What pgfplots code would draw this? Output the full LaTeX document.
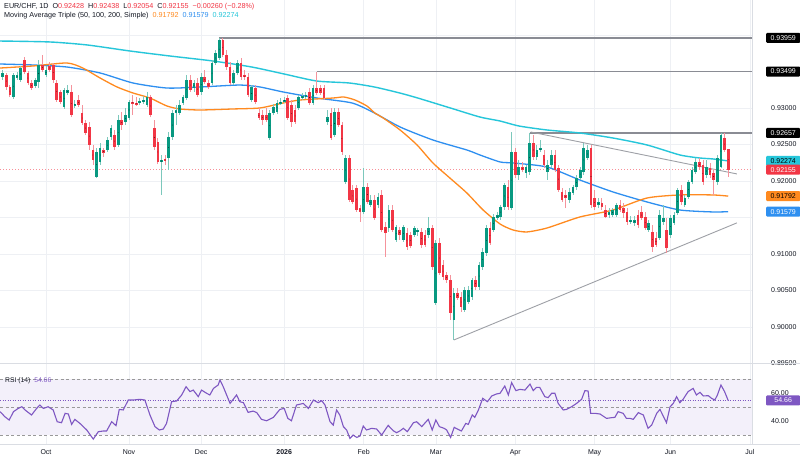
\documentclass[border=0pt]{standalone}
\usepackage{pgfplots}
\pgfplotsset{compat=1.18}
\usepackage{pgfplotstable}
\usepackage{fontspec}
\setmainfont{Liberation Sans}
\definecolor{up}{HTML}{089981}
\definecolor{dn}{HTML}{F23645}
\definecolor{upw}{HTML}{7CC8BC}
\definecolor{dnw}{HTML}{F5939C}
\definecolor{ma50}{HTML}{FF8A1F}
\definecolor{ma100}{HTML}{2E8FF0}
\definecolor{ma200}{HTML}{26C6DA}
\definecolor{gridc}{HTML}{EEF0F4}
\definecolor{sep}{HTML}{DADDE3}
\definecolor{txt}{HTML}{131722}
\definecolor{lvl}{HTML}{8A8C94}
\definecolor{trend}{HTML}{9EA0A6}
\definecolor{rsi}{HTML}{7E57C2}
\pgfplotsset{candle/.style={only marks, mark=*, mark size=0.01pt, mark options={draw=none, fill=none},
  error bars/y dir=both, error bars/y explicit, error bars/error mark=none}}
\newcommand{\lab}{\fontsize{7}{8}\selectfont}

% up candles: day index, open, high, low, close
\pgfplotstableread{
i o h l c
-12 0.93424 0.93520 0.93383 0.93479
-9 0.93150 0.93479 0.93123 0.93452
-8 0.93410 0.93493 0.93383 0.93452
-7 0.93383 0.93575 0.93356 0.93547
-3 0.93301 0.93410 0.93273 0.93383
-2 0.93356 0.93657 0.93273 0.93589
0 0.93452 0.93575 0.93424 0.93520
5 0.93013 0.93273 0.92986 0.93246
6 0.93205 0.93315 0.93178 0.93246
8 0.93041 0.93109 0.93000 0.93054
14 0.92054 0.92451 0.92040 0.92397
15 0.92260 0.92520 0.92219 0.92451
17 0.92424 0.92602 0.92397 0.92561
18 0.92602 0.92767 0.92561 0.92725
20 0.92493 0.92904 0.92465 0.92835
22 0.92808 0.93000 0.92767 0.92904
23 0.92863 0.93109 0.92835 0.93082
26 0.93068 0.93136 0.93041 0.93095
27 0.93082 0.93164 0.93054 0.93109
28 0.93041 0.93219 0.93013 0.93150
32 0.92260 0.92356 0.91808 0.92287
34 0.92315 0.92671 0.92150 0.92602
35 0.92602 0.92972 0.92561 0.92931
36 0.92931 0.93041 0.92767 0.92972
37 0.92931 0.93109 0.92904 0.93041
38 0.93068 0.93178 0.93041 0.93150
39 0.93136 0.93452 0.93109 0.93383
41 0.93273 0.93383 0.93219 0.93342
43 0.93219 0.93479 0.93178 0.93424
46 0.93342 0.93657 0.93315 0.93616
47 0.93616 0.93794 0.93589 0.93753
48 0.93684 0.93959 0.93657 0.93931
52 0.93342 0.93520 0.93315 0.93479
53 0.93479 0.93657 0.93452 0.93616
57 0.93109 0.93315 0.93082 0.93287
62 0.92588 0.92972 0.92561 0.92931
63 0.92931 0.93054 0.92904 0.93013
64 0.92945 0.93109 0.92917 0.93068
65 0.93068 0.93136 0.93041 0.93082
66 0.93095 0.93150 0.93068 0.93109
70 0.93000 0.93178 0.92972 0.93150
71 0.93136 0.93205 0.93109 0.93164
72 0.93150 0.93219 0.93123 0.93178
74 0.93068 0.93315 0.93041 0.93273
78 0.92808 0.92972 0.92767 0.92876
80 0.92630 0.93000 0.92602 0.92945
83 0.91986 0.92356 0.91958 0.92315
88 0.91575 0.92177 0.91547 0.91917
90 0.91671 0.91808 0.91643 0.91739
92 0.91671 0.91835 0.91629 0.91780
95 0.91355 0.91671 0.91301 0.91602
97 0.91191 0.91397 0.91164 0.91369
99 0.91191 0.91397 0.91164 0.91369
102 0.91260 0.91383 0.91232 0.91355
103 0.91301 0.91355 0.91246 0.91328
106 0.91260 0.91506 0.91218 0.91355
108 0.90328 0.91191 0.90301 0.91150
113 0.90095 0.90533 0.89821 0.90465
116 0.90232 0.90547 0.90205 0.90506
117 0.90342 0.90561 0.90314 0.90506
118 0.90410 0.90670 0.90369 0.90643
120 0.90547 0.90890 0.90506 0.90849
121 0.90821 0.91081 0.90780 0.91027
122 0.91013 0.91397 0.90972 0.91355
124 0.91328 0.91547 0.91301 0.91506
125 0.91492 0.91575 0.91465 0.91534
126 0.91506 0.91671 0.91465 0.91643
127 0.91643 0.91972 0.91602 0.91945
129 0.91629 0.92671 0.91602 0.92397
131 0.92082 0.92287 0.92013 0.92191
133 0.92109 0.92219 0.92040 0.92191
134 0.92123 0.92657 0.92082 0.92520
136 0.92328 0.92493 0.92287 0.92424
137 0.92424 0.92561 0.92397 0.92451
139 0.92123 0.92287 0.92013 0.92219
140 0.92219 0.92424 0.92177 0.92356
145 0.91739 0.91903 0.91698 0.91849
146 0.91835 0.91945 0.91808 0.91917
147 0.91917 0.92082 0.91876 0.92040
148 0.92040 0.92191 0.92013 0.92150
149 0.92123 0.92520 0.92082 0.92451
150 0.92315 0.92493 0.92287 0.92424
153 0.91671 0.91766 0.91629 0.91712
156 0.91534 0.91629 0.91492 0.91575
157 0.91534 0.91629 0.91506 0.91602
158 0.91534 0.91698 0.91506 0.91671
162 0.91438 0.91520 0.91410 0.91465
163 0.91424 0.91520 0.91383 0.91465
167 0.91328 0.91465 0.91301 0.91424
170 0.91218 0.91602 0.91191 0.91534
171 0.91438 0.91671 0.91397 0.91492
173 0.91260 0.91534 0.91218 0.91492
174 0.91424 0.91575 0.91397 0.91534
175 0.91561 0.91903 0.91534 0.91876
177 0.91671 0.91808 0.91643 0.91766
178 0.91780 0.92013 0.91753 0.91986
179 0.91986 0.92191 0.91958 0.92150
180 0.92123 0.92315 0.92095 0.92260
183 0.92082 0.92287 0.92040 0.92191
186 0.91986 0.92356 0.91945 0.92315
187 0.92191 0.92657 0.92177 0.92630
}\upc

% down candles
\pgfplotstableread{
i o h l c
-11 0.93452 0.93479 0.93246 0.93287
-10 0.93287 0.93315 0.93150 0.93178
-6 0.93657 0.93698 0.93465 0.93493
-5 0.93479 0.93506 0.93315 0.93342
-4 0.93342 0.93383 0.93246 0.93273
-1 0.93589 0.93726 0.93493 0.93520
1 0.93575 0.93630 0.93493 0.93520
2 0.93589 0.93616 0.93342 0.93383
3 0.93342 0.93383 0.93082 0.93109
4 0.93219 0.93246 0.93054 0.93082
7 0.93219 0.93315 0.92876 0.92904
9 0.93109 0.93178 0.93013 0.93041
10 0.92931 0.93041 0.92767 0.92794
11 0.92794 0.92835 0.92630 0.92657
12 0.92739 0.92808 0.92424 0.92493
13 0.92424 0.92493 0.92219 0.92287
16 0.92424 0.92451 0.92328 0.92383
19 0.92630 0.92698 0.92424 0.92465
21 0.92835 0.92945 0.92698 0.92767
24 0.93082 0.93178 0.92904 0.93068
25 0.93068 0.93150 0.93027 0.93054
29 0.93150 0.93178 0.92876 0.92904
30 0.92725 0.92835 0.92424 0.92465
31 0.92534 0.92588 0.92232 0.92260
33 0.92301 0.92356 0.92219 0.92273
40 0.93383 0.93452 0.93219 0.93246
42 0.93342 0.93410 0.93150 0.93178
44 0.93424 0.93520 0.93328 0.93356
45 0.93342 0.93383 0.93260 0.93287
49 0.93931 0.93958 0.93698 0.93726
50 0.93726 0.93794 0.93520 0.93561
51 0.93561 0.93630 0.93315 0.93342
54 0.93616 0.93684 0.93383 0.93424
55 0.93452 0.93520 0.93383 0.93424
56 0.93424 0.93479 0.93150 0.93178
58 0.93273 0.93315 0.93054 0.93082
59 0.92931 0.93000 0.92835 0.92863
60 0.92904 0.92972 0.92767 0.92835
61 0.92904 0.93000 0.92808 0.92835
67 0.93136 0.93178 0.92835 0.92863
68 0.93041 0.93109 0.92739 0.92808
69 0.92972 0.93041 0.92781 0.92808
73 0.93219 0.93273 0.93041 0.93068
75 0.93273 0.93499 0.93178 0.93205
76 0.93273 0.93315 0.93178 0.93205
77 0.93273 0.93315 0.93109 0.93136
79 0.92931 0.93000 0.92561 0.92588
81 0.92945 0.93000 0.92739 0.92767
82 0.92767 0.92808 0.92356 0.92397
84 0.92315 0.92356 0.91712 0.91739
85 0.91876 0.91945 0.91684 0.91712
86 0.91903 0.91945 0.91575 0.91602
87 0.91629 0.91671 0.91438 0.91575
89 0.91917 0.91972 0.91684 0.91712
91 0.91739 0.91808 0.91465 0.91492
93 0.91808 0.91876 0.91301 0.91328
94 0.91369 0.91438 0.90958 0.91287
96 0.91602 0.91671 0.91301 0.91328
98 0.91328 0.91369 0.91191 0.91260
100 0.91287 0.91355 0.91054 0.91095
101 0.91260 0.91301 0.91081 0.91109
104 0.91301 0.91355 0.91081 0.91123
105 0.91260 0.91328 0.91095 0.91123
107 0.91355 0.91397 0.90780 0.90821
109 0.91150 0.91218 0.90712 0.90739
110 0.90849 0.90917 0.90643 0.90684
111 0.90712 0.90753 0.90602 0.90643
112 0.90643 0.90712 0.90095 0.90191
114 0.90465 0.90533 0.90369 0.90396
115 0.90410 0.90479 0.90205 0.90273
119 0.90643 0.90698 0.90506 0.90547
123 0.91355 0.91438 0.91123 0.91150
128 0.91917 0.92013 0.91602 0.91643
130 0.92397 0.92451 0.92040 0.92082
132 0.92191 0.92260 0.92123 0.92150
135 0.92520 0.92630 0.92287 0.92328
138 0.92356 0.92424 0.92177 0.92219
141 0.92356 0.92424 0.92123 0.92150
142 0.92177 0.92219 0.91849 0.91876
143 0.91849 0.91903 0.91712 0.91739
144 0.91808 0.91876 0.91629 0.91766
151 0.92451 0.92493 0.91629 0.91671
152 0.91766 0.91876 0.91602 0.91643
154 0.91698 0.91766 0.91602 0.91643
155 0.91602 0.91671 0.91492 0.91506
159 0.91671 0.91739 0.91575 0.91602
160 0.91629 0.91698 0.91492 0.91561
161 0.91575 0.91629 0.91397 0.91438
164 0.91534 0.91602 0.91355 0.91397
165 0.91575 0.91657 0.91465 0.91492
166 0.91506 0.91575 0.91328 0.91355
168 0.91301 0.91397 0.91027 0.91095
169 0.91218 0.91301 0.91095 0.91123
172 0.91328 0.91492 0.91013 0.91081
176 0.91876 0.91945 0.91671 0.91712
181 0.92260 0.92315 0.92150 0.92191
182 0.92219 0.92287 0.91945 0.91986
184 0.92177 0.92246 0.92040 0.92082
185 0.92109 0.92150 0.91808 0.92013
188 0.92588 0.92650 0.92397 0.92424
189 0.92428 0.92438 0.92054 0.92155
}\dnc

\pgfplotstableread{
i p
-12.74 0.93917
1.1 0.93904
11.4 0.93863
23.3 0.93780
34.3 0.93712
46.3 0.93643
57 0.93561
66 0.93465
75 0.93369
84 0.93342
91 0.93287
98 0.93205
103 0.93136
112 0.93000
120.2 0.92876
125.8 0.92821
131 0.92753
138.8 0.92698
147.9 0.92657
157.1 0.92588
166.5 0.92493
175.6 0.92356
181 0.92315
184.8 0.92301
189 0.92274
}\smaA

\pgfplotstableread{
i p
-12.74 0.93602
-3.6 0.93589
5.8 0.93561
15.0 0.93479
24.1 0.93342
33.5 0.93273
42.7 0.93287
53.7 0.93314
59.3 0.93287
65.7 0.93219
75.1 0.93136
84.8 0.93068
91 0.92931
98.1 0.92739
107.2 0.92561
116.6 0.92424
120.2 0.92356
125.8 0.92260
129.4 0.92246
138.8 0.92191
147.9 0.92013
157.1 0.91849
166.5 0.91712
175.6 0.91602
184.8 0.91575
189 0.91579
}\smaB

\pgfplotstableread{
i p
-12.74 0.93547
-3.6 0.93575
5.8 0.93616
10.2 0.93547
15.0 0.93410
19.7 0.93287
24.1 0.93205
28.8 0.93136
33.5 0.93027
37.1 0.92986
42.7 0.92972
51.8 0.92986
59.3 0.93000
65.7 0.93068
70.4 0.93109
79.5 0.93136
82.5 0.93150
85.6 0.93109
88.9 0.93027
91.1 0.92931
93.4 0.92863
98.1 0.92698
102.8 0.92493
107.2 0.92246
111.9 0.92040
116.6 0.91835
121.1 0.91602
125.8 0.91410
129.4 0.91328
133.2 0.91301
138.8 0.91355
147.9 0.91506
157.1 0.91602
166.5 0.91766
175.6 0.91808
184.8 0.91808
189 0.91792
}\smaC

\pgfplotstableread{
i r
-12.7 46.7
-11.4 43.1
-10.2 40.7
-9.0 46.7
-7.7 49.0
-6.7 50.2
-5.8 47.9
-4.0 44.3
-2.6 49.0
-1.7 51.4
-0.7 49.0
0.6 50.2
2.0 47.9
3.1 39.5
4.3 38.8
5.3 45.5
6.2 45.0
7.1 37.6
8.0 41.2
9.4 38.3
11.3 33.6
13.1 27.1
14.5 32.4
15.9 32.9
16.8 32.9
18.2 39.5
19.4 36.7
20.3 48.3
21.4 47.9
22.8 55.0
24.2 55.0
26.0 55.5
27.4 55.0
28.8 44.3
30.2 36.0
31.4 33.6
32.5 34.3
33.4 38.3
34.8 53.8
36.2 54.3
37.6 58.6
38.8 64.5
39.9 61.0
40.8 62.1
42.2 57.4
43.1 62.1
44.5 59.8
45.4 58.6
46.4 63.3
47.7 65.7
48.2 69.3
49.1 64.5
51.0 52.6
52.8 58.6
53.7 53.8
54.7 53.1
56.0 46.2
57.4 47.1
58.4 46.0
59.7 41.2
61.1 40.2
63.0 42.6
64.8 48.3
66.0 49.0
67.0 41.9
68.0 40.2
69.4 51.4
71.3 52.6
72.7 49.0
74.1 55.0
75.4 53.1
76.4 54.5
77.3 51.4
78.7 39.5
79.6 37.1
80.5 47.9
81.4 44.3
82.4 36.0
83.3 33.6
84.2 27.6
85.1 30.0
86.1 28.3
87.0 29.3
87.9 36.4
88.8 33.6
90.2 34.8
91.6 34.3
93.0 30.0
94.8 36.9
96.2 33.1
97.1 31.7
98.1 33.0
99.0 34.8
100.1 32.4
101.8 38.8
102.7 39.5
104.1 36.0
105.9 41.2
107.0 33.6
108.0 40.7
109.0 36.0
110.3 34.8
111.0 33.6
112.1 28.3
113.1 35.5
114.2 34.0
115.1 32.9
116.3 38.3
117.0 37.6
118.1 44.3
118.8 42.6
119.8 47.9
121.0 56.2
122.3 53.8
123.5 57.9
124.8 59.3
125.8 59.8
127.1 65.0
128.1 58.6
129.0 67.4
130.2 61.7
131.3 62.6
132.7 62.1
134.1 66.4
135.0 61.7
135.9 64.0
136.8 64.0
138.2 57.4
139.1 56.7
140.1 59.8
141.0 59.8
141.9 52.6
143.3 47.9
144.2 48.3
145.6 50.2
147.0 52.6
148.4 55.5
149.3 61.7
150.2 61.4
150.9 45.5
152.1 45.5
153.5 45.0
155.3 41.9
156.7 42.4
157.6 42.6
158.5 46.7
159.9 45.5
160.8 41.9
161.8 41.9
162.7 41.2
164.1 46.0
165.5 44.3
166.8 34.8
167.8 37.1
169.2 45.5
170.1 48.3
171.0 43.6
171.9 38.8
172.9 50.2
173.8 52.6
174.7 57.4
175.6 53.1
176.5 55.5
177.9 61.0
179.3 63.3
180.2 58.6
181.2 60.5
182.1 57.9
183.5 58.1
184.4 56.2
185.3 55.0
186.0 58.5
187.0 65.7
188.0 61.0
189.0 54.66
}\rsidata

\begin{document}
\begin{tikzpicture}
\path[use as bounding box, fill=white] (0,0) rectangle (800pt,-461pt);

% ---------------- price panel ----------------
\begin{axis}[
  at={(0,0)}, anchor=north west,
  scale only axis, width=752pt, height=363.4pt,
  xmin=-12.74, xmax=195.6, ymin=0.895, ymax=0.94479,
  axis line style={draw=none}, major tick length=0pt,
  xtick={0,23,43,66,88,108,130,152,173,195}, xticklabels={},
  ytick={0.895,0.9,0.905,0.91,0.915,0.92,0.925,0.93,0.935,0.94},
  yticklabels={0.89500,0.90000,0.90500,0.91000,{},0.92000,0.92500,0.93000,{},{}},
  yticklabel pos=right,
  yticklabel style={anchor=west, inner sep=0pt, xshift=19pt, font=\lab, text=txt},
  xmajorgrids, ymajorgrids, grid style={color=gridc, line width=0.6pt},
  clip mode=individual,
]
% level lines
\addplot[lvl, line width=1.4pt] coordinates {(48,0.93959) (195.6,0.93959)};
\addplot[lvl, line width=1.4pt] coordinates {(75,0.93499) (195.6,0.93499)};
\addplot[lvl, line width=1.4pt] coordinates {(134,0.92657) (195.6,0.92657)};
% trend lines
\addplot[trend, line width=0.9pt] coordinates {(134.3,0.92671) (191.4,0.92096)};
\addplot[trend, line width=0.9pt] coordinates {(113,0.89821) (191.4,0.91425)};
% last price line
\addplot[dn!55, line width=0.55pt, dash pattern=on 1pt off 2pt] coordinates {(-12.74,0.92155) (195.6,0.92155)};
% moving averages
\addplot[ma200, line width=1.4pt, smooth, tension=0.4] table[x=i,y=p] {\smaA};
\addplot[ma100, line width=1.3pt, smooth, tension=0.4] table[x=i,y=p] {\smaB};
\addplot[ma50, line width=1.3pt, smooth, tension=0.4] table[x=i,y=p] {\smaC};
% wicks (quiver from low to high)
\addplot[upw, line width=0.8pt, mark=none, quiver={u=0, v=\thisrow{h}-\thisrow{l}}] table[x=i, y=l] {\upc};
\addplot[dnw, line width=0.8pt, mark=none, quiver={u=0, v=\thisrow{h}-\thisrow{l}}] table[x=i, y=l] {\dnc};
% bodies (error bars from open to close)
\addplot[candle, error bars/error bar style={draw=up, line width=2.7pt}]
  table[x=i, y expr=(\thisrow{o}+\thisrow{c})/2, y error expr=abs(\thisrow{c}-\thisrow{o})/2+0.00004] {\upc};
\addplot[candle, error bars/error bar style={draw=dn, line width=2.7pt}]
  table[x=i, y expr=(\thisrow{o}+\thisrow{c})/2, y error expr=abs(\thisrow{c}-\thisrow{o})/2+0.00004] {\dnc};
% price scale labels
\tikzset{plab/.style={anchor=west, xshift=14pt, inner sep=0pt, minimum width=34pt, minimum height=10pt, rounded corners=1pt, font=\lab}}
\node[plab, fill=black, text=white] at (axis cs:195.6,0.93959) {0.93959};
\node[plab, fill=black, text=white] at (axis cs:195.6,0.93499) {0.93499};
\node[plab, fill=black, text=white] at (axis cs:195.6,0.92657) {0.92657};
\node[plab, fill=ma200, text=black] at (axis cs:195.6,0.92274) {0.92274};
\node[plab, fill=dn, text=white] at (axis cs:195.6,0.92155) {0.92155};
\node[plab, fill=ma50, text=black] at (axis cs:195.6,0.91792) {0.91792};
\node[plab, fill=ma100, text=white] at (axis cs:195.6,0.91579) {0.91579};
\end{axis}

% ---------------- RSI panel ----------------
\begin{axis}[
  at={(0,-364pt)}, anchor=north west,
  scale only axis, width=752pt, height=80pt,
  xmin=-12.74, xmax=195.6, ymin=23.6, ymax=80.7,
  axis line style={draw=none}, major tick length=0pt,
  xtick={0,23,43,66,88,108,130,152,173,195},
  xticklabels={Oct,Nov,Dec,\textbf{2026},Feb,Mar,Apr,May,Jun,Jul},
  xticklabel style={font=\lab, text=txt, yshift=-2pt},
  ytick={40,60}, yticklabels={40.00,60.00},
  yticklabel pos=right,
  yticklabel style={anchor=west, inner sep=0pt, xshift=19pt, font=\lab, text=txt},
  xmajorgrids, grid style={color=gridc, line width=0.6pt},
  clip mode=individual,
]
\addplot[draw=none, fill=rsi!9] coordinates {(-12.74,30) (195.6,30) (195.6,70) (-12.74,70)} -- cycle;
\addplot[gray!80, line width=0.6pt, dash pattern=on 3pt off 2.5pt] coordinates {(-12.74,70) (195.6,70)};
\addplot[gray!80, line width=0.6pt, dash pattern=on 3pt off 2.5pt] coordinates {(-12.74,50) (195.6,50)};
\addplot[gray!80, line width=0.6pt, dash pattern=on 3pt off 2.5pt] coordinates {(-12.74,30) (195.6,30)};
\addplot[rsi, line width=0.7pt, dash pattern=on 1pt off 1.5pt] coordinates {(-12.74,54.66) (195.6,54.66)};
\addplot[rsi, line width=1.1pt] table[x=i,y=r] {\rsidata};
\node[anchor=west, inner sep=0pt, xshift=14pt, minimum width=34pt, minimum height=10pt, rounded corners=1pt, fill=rsi, text=white, font=\lab] at (axis cs:195.6,54.66) {54.66};
\end{axis}

% separators
\draw[sep, line width=0.6pt] (0,-363.6pt) -- (800pt,-363.6pt);
\draw[sep, line width=0.6pt] (0,-444.5pt) -- (800pt,-444.5pt);
\draw[sep, line width=0.6pt] (752pt,0) -- (752pt,-444.5pt);

% header
\node[anchor=base west, inner sep=0pt, font=\fontsize{7.2}{8}\selectfont, text=txt] at (4pt,-8.5pt)
  {EUR/CHF, 1D\ \ O\textcolor{dn}{0.92428}\ \ H\textcolor{dn}{0.92438}\ \ L\textcolor{dn}{0.92054}\ \ C\textcolor{dn}{0.92155}\ \ \textcolor{dn}{−0.00260 (−0.28\%)}};
\node[anchor=base west, inner sep=0pt, font=\fontsize{7.2}{8}\selectfont, text=txt] at (4pt,-17pt)
  {Moving Average Triple (50, 100, 200, Simple)\ \ \textcolor{ma50}{0.91792}\ \ \textcolor{ma100}{0.91579}\ \ \textcolor{ma200}{0.92274}};
\node[anchor=base west, inner sep=0pt, font=\fontsize{6.8}{8}\selectfont, text=txt] at (5pt,-382pt)
  {RSI (14)\ \ \textcolor{rsi}{54.66}};
\end{tikzpicture}
\end{document}
